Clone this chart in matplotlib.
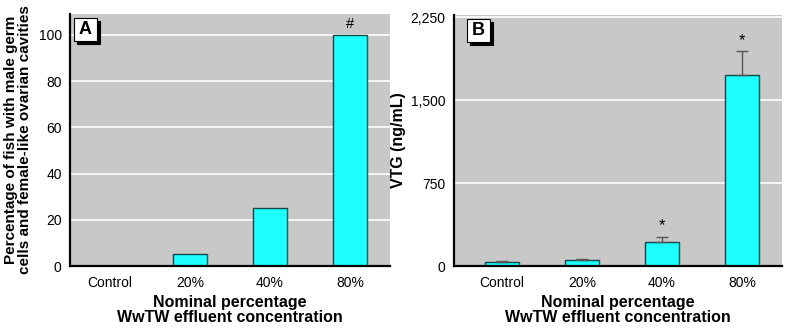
import matplotlib.pyplot as plt
from matplotlib import font_manager
import numpy as np

# data
categories = ['Control', '20%', '40%', '80%']
pct_fish = [0, 5, 25, 100]
vtg = [35, 54, 214, 1728]
vtg_err = [8, 9, 51, 212]
marks_a = ['', '', '', '#']
marks_b = ['', '', '*', '*']
yticks_a = [0, 20, 40, 60, 80, 100]
yticks_b = [0, 750, 1500, 2250]

names = {f.name for f in font_manager.fontManager.ttflist}
fam = 'Liberation Sans Narrow' if 'Liberation Sans Narrow' in names else 'Liberation Sans'
plt.rcParams['font.family'] = [fam, 'DejaVu Sans']

BG = '#c8c8c8'
BAR = '#1effff'
EDGE = '#0f4a4a'

fig = plt.figure(figsize=(7.89, 3.29), dpi=100)
W, H = 789, 329


def px_axes(l, t, r, b):
    return fig.add_axes([l / W, 1 - b / H, (r - l) / W, (b - t) / H])


def style(ax, yticks, fmt):
    ax.set_facecolor(BG)
    for s in ['top', 'right']:
        ax.spines[s].set_visible(False)
    for s in ['left', 'bottom']:
        ax.spines[s].set_linewidth(1.6)
        ax.spines[s].set_color('black')
    ax.set_yticks(yticks)
    ax.set_yticklabels([fmt(v) for v in yticks])
    ax.yaxis.grid(True, color='white', linewidth=1.2)
    ax.set_axisbelow(True)
    ax.tick_params(length=0, labelsize=10, pad=6)
    ax.set_xticks(range(len(categories)))
    ax.set_xticklabels(categories)
    ax.tick_params(axis='x', pad=7)
    ax.set_xlabel('Nominal percentage\nWwTW effluent concentration',
                  fontsize=11.5, fontweight='bold', linespacing=0.95, labelpad=4)


def letter_box(x, y, txt):
    # shadow then white box, in pixel coords
    w, h = 23, 23
    for dx, dy, fc in [(3, 3, 'black'), (0, 0, 'white')]:
        fig.patches.append(plt.Rectangle(((x + dx) / W, 1 - (y + dy + h) / H), w / W, h / H,
                                         transform=fig.transFigure, facecolor=fc,
                                         edgecolor='black', linewidth=0.8))
    fig.text((x + w / 2) / W, 1 - (y + h / 2) / H, txt, ha='center', va='center',
             fontsize=13, fontweight='bold')


x = np.arange(len(categories))

# panel A
ax1 = px_axes(70, 14, 390, 266)
ax1.bar(x, pct_fish, width=0.43, color=BAR, edgecolor=EDGE, linewidth=1.0)
ax1.set_xlim(-0.5, 3.5)
ax1.set_ylim(0, 109)
style(ax1, yticks_a, lambda v: f'{v}')
ax1.set_ylabel('Percentage of fish with male germ\ncells and female-like ovarian cavities',
               fontsize=11, fontweight='bold', linespacing=1.0, labelpad=5)
for i, m in enumerate(marks_a):
    if m:
        ax1.text(x[i], pct_fish[i] + 1.5, m, ha='center', va='bottom', fontsize=10.5)

# panel B
ax2 = px_axes(454, 15, 782, 266)
ax2.bar(x, vtg, width=0.43, color=BAR, edgecolor=EDGE, linewidth=1.0)
ax2.errorbar(x, vtg, yerr=[np.zeros(len(vtg)), vtg_err], fmt='none',
             ecolor='#555555', elinewidth=1.0, capsize=4, capthick=1.0)
ax2.set_xlim(-0.6, 3.5)
ax2.set_ylim(0, 2270)
style(ax2, yticks_b, lambda v: f'{v:,}')
ax2.set_ylabel('VTG (ng/mL)', fontsize=11.5, fontweight='bold', labelpad=3)
for i, m in enumerate(marks_b):
    if m:
        ax2.text(x[i], vtg[i] + vtg_err[i] + 30, m, ha='center', va='bottom', fontsize=12)

letter_box(74, 18, 'A')
letter_box(467, 19, 'B')

fig.savefig('out.png', dpi=100)
